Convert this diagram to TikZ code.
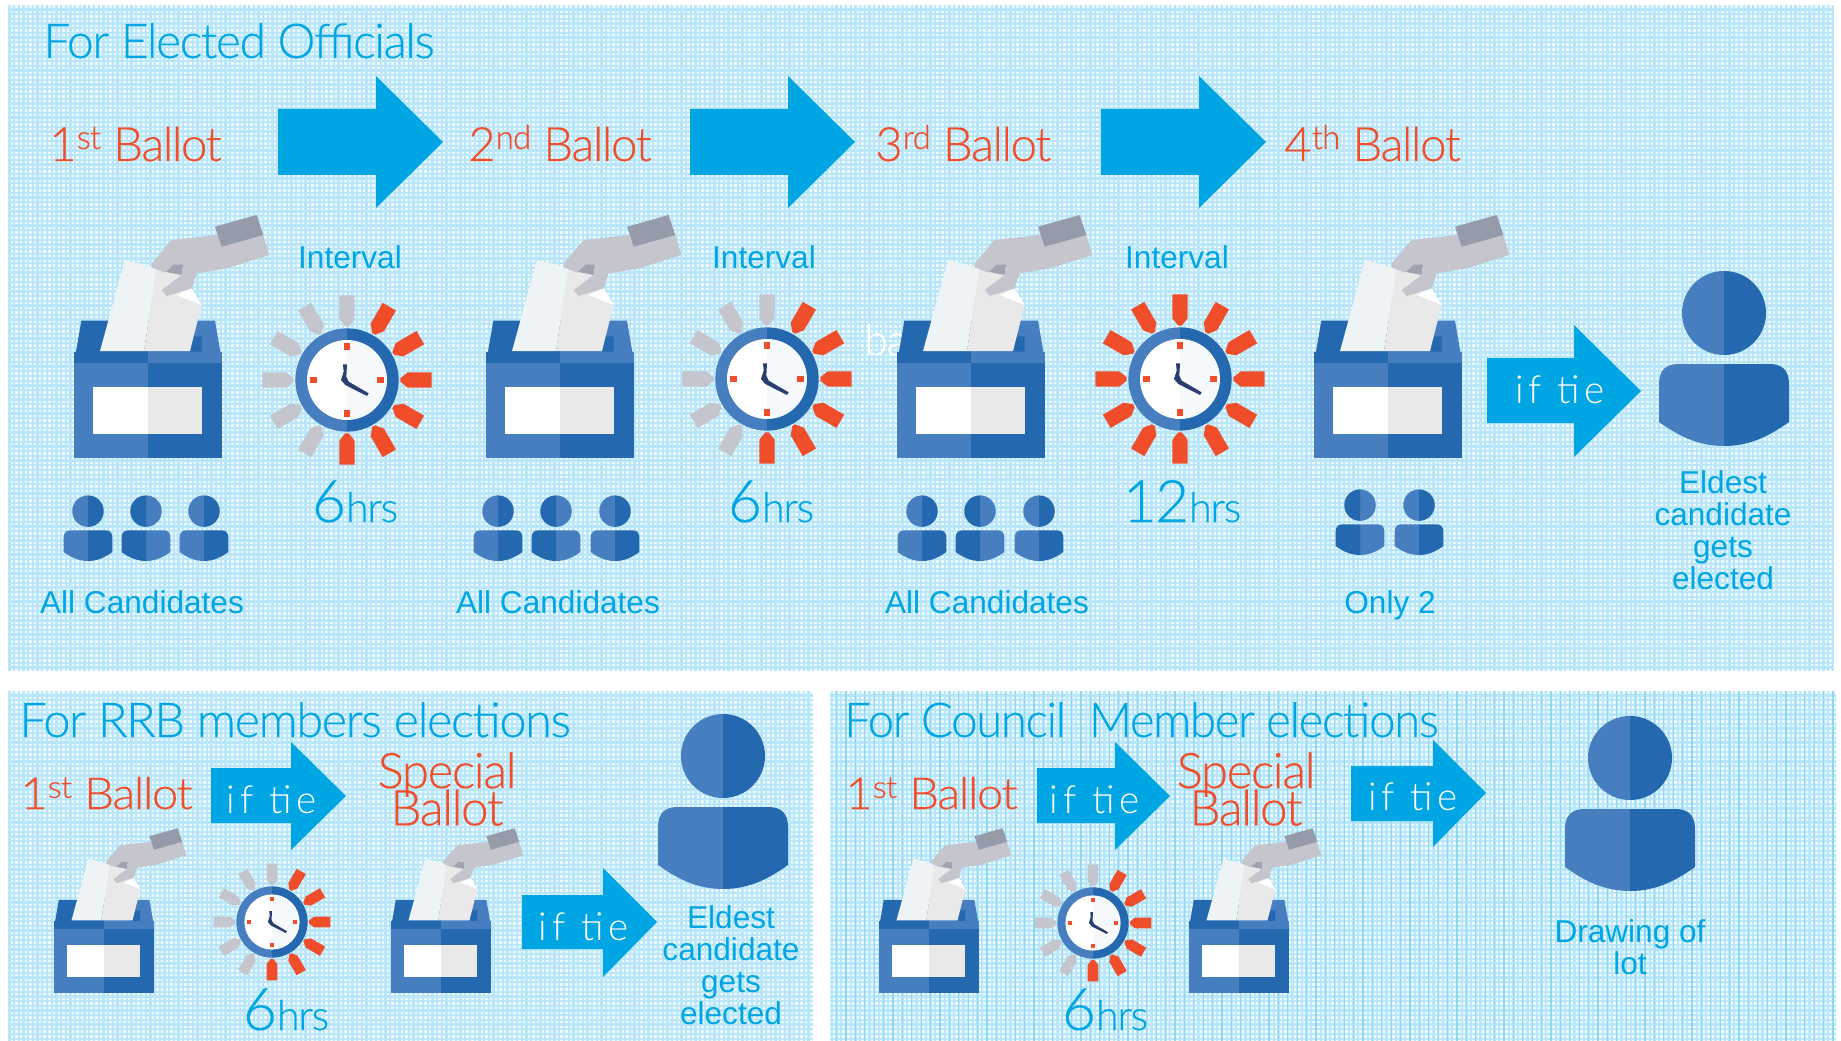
\documentclass[tikz,border=0pt]{standalone}
\usepackage{fontspec}
\setmainfont{Liberation Sans}
\newfontfamily\lightfont[LetterSpace=-3,FakeBold=0.25]{Lato Light}
\newfontfamily\tiefont[LetterSpace=13]{Lato Light}
\usepackage{graphicx}

\definecolor{boxlight}{HTML}{477EC0}
\definecolor{boxdark}{HTML}{2468AF}
\definecolor{skyblue}{HTML}{00A6E3}
\definecolor{ballotred}{HTML}{F04E2A}
\definecolor{handgrey}{HTML}{C5C5CE}
\definecolor{cuffgrey}{HTML}{959BA9}
\definecolor{paperlight}{HTML}{EEF3F5}
\definecolor{paperdark}{HTML}{E9E9EA}
\definecolor{handsnavy}{HTML}{2A3D6F}
\definecolor{panelbase}{HTML}{EEFAFE}
\definecolor{panelgrid}{HTML}{B9E7F9}
\definecolor{paneldark}{HTML}{8FD8F3}

\tikzset{
  panelfill/.style={fill=panelbase},
  panelline/.style={draw=panelgrid,line width=1.7pt},
  bigarrow/.style={fill=skyblue},
  icon/.style={scale=#1,yscale=-1},
  flipicon/.style={scale=#1,yscale=-1,xscale=-1},
  skytext/.style={inner sep=0pt,anchor=base,text=skyblue,font=\fontsize{23.7}{24}\selectfont},
  eldest/.style={inner sep=0pt,anchor=north,align=center,text=skyblue,font=\fontsize{23.7}{24}\selectfont},
  titletext/.style={inner sep=0pt,anchor=base west,text=skyblue,font=\lightfont\fontsize{36}{36}\selectfont},
  ballottext/.style={inner sep=0pt,anchor=base west,text=ballotred,font=\lightfont\fontsize{35.5}{36}\selectfont},
  specialtext/.style={inner sep=0pt,anchor=north,align=center,text=ballotred,font=\lightfont\fontsize{37}{30}\selectfont},
  hourtext/.style={inner sep=0pt,anchor=base,text=skyblue,font=\lightfont\fontsize{31}{31}\selectfont},
  tietext/.style={inner sep=0pt,anchor=base,text=white,font=\tiefont\fontsize{29}{29}\selectfont},
  pics/ballotbox/.style={code={
    %box top
    \fill[boxdark] (-222,-284) -- (-200,-412) -- (0,-412) -- (0,-284) -- cycle;
    \fill[boxlight] (0,-284) -- (0,-412) -- (201,-412) -- (223,-284) -- cycle;
    \fill[boxdark] (125,-319) -- (135,-365) -- (161,-365) -- (161,-319) -- cycle;
    %box body
    \fill[boxlight] (-222,-284) rectangle (0,0);
    \fill[boxdark] (0,-284) rectangle (223,0);
    \fill[boxdark] (-222,-319) rectangle (0,-284);
    \fill[boxlight] (0,-319) rectangle (223,-284);
    \fill[white] (-164,-214) rectangle (0,-72);
    \fill[paperdark] (0,-214) rectangle (161,-72);
    %paper
    \fill[paperlight] (-69,-594) -- (26,-570) -- (-12,-321) -- (-144,-321) -- cycle;
    \fill[paperdark] (26,-570) -- (96,-549) -- (161,-459) -- (126,-321) -- (-12,-321) -- cycle;
    \fill[white] (86,-489) -- (131,-509) -- (161,-459) -- cycle;
    %hand
    \fill[cuffgrey!80!handgrey] (51,-559) -- (76,-589) -- (106,-589) -- (101,-549) -- cycle;
    \fill[handgrey] (11,-584) -- (71,-654) -- (206,-669) -- (346,-669) -- (364,-609) -- (236,-569) -- (146,-554)
      -- (131,-509) -- (56,-486) -- (41,-504) -- (101,-549) -- (106,-580) -- (76,-580) -- (51,-556) -- (11,-572) -- cycle;
    \fill[cuffgrey] (201,-694) -- (326,-729) -- (346,-669) -- (221,-634) -- cycle;
  }},
  pics/clockicon/.style={code={
    \foreach \r in {1,...,12}{
      \ifnum\r>#1 \def\raycolor{handgrey}\else\def\raycolor{ballotred}\fi
      \begin{scope}[rotate=\r*30]
        \fill[\raycolor] (-23,-254) -- (23,-254) -- (23,-182) -- (5,-160) -- (-5,-160) -- (-23,-182) -- cycle;
      \end{scope}
    }
    %ring and face
    \fill[boxlight] (0,155) arc (90:270:155) -- cycle;
    \fill[boxdark] (0,155) arc (90:-90:155) -- cycle;
    \fill[white] (0,120) arc (90:270:120) -- cycle;
    \fill[white!95!boxlight] (0,120) arc (90:-90:120) -- cycle;
    \foreach \a in {0,90,180,270}{
      \begin{scope}[rotate=\a]
        \fill[ballotred] (-10,-110) rectangle (10,-90);
      \end{scope}
    }
    %hands
    \fill[handsnavy] (-12,-47) -- (0,-47) -- (-2,-10) -- (5,5) -- (65,40) -- (60,48) -- (-5,15) -- (-18,0) -- (-10,-25) -- cycle;
  }},
  pics/person/.style={code={
    \fill[boxlight] (0,-91) arc (90:270:42) -- cycle;
    \fill[boxdark] (0,-91) arc (90:-90:42) -- cycle;
    \fill[boxlight] (0,0) .. controls (-28,0) and (-48,-12) .. (-65,-24) -- (-65,-62) .. controls (-65,-76) and (-58,-82) .. (-45,-82) -- (0,-82) -- cycle;
    \fill[boxdark] (0,0) .. controls (28,0) and (48,-12) .. (65,-24) -- (65,-62) .. controls (65,-76) and (58,-82) .. (45,-82) -- (0,-82) -- cycle;
  }},
}

\begin{document}
\begin{tikzpicture}[x=0.75pt,y=0.75pt,yscale=-1,xscale=1]
\useasboundingbox (0,0) rectangle (1841,1041);

%Panels
\fill[panelfill] (8,5) rectangle (1833,671);
\draw[panelline,step=4.7] (8,5) grid (1833,671);
\fill[panelfill] (8,691) rectangle (813,1041);
\draw[panelline,step=4.7] (8,691) grid (813,1041);
\fill[panelfill] (830,691) rectangle (1836,1041);
\draw[panelline,step=4.7] (830,691) grid (1836,1041);
\draw[draw=paneldark,line width=0.8pt,xstep=9.4,ystep=2000] (830,691) grid (1836,1041);

%Text behind the third box
\node[inner sep=0pt,anchor=base west,text=white,font=\lightfont\fontsize{32}{32}\selectfont] (stray) at (864,355) {ba};

%Top panel
\node[titletext] (titleTop) at (43,58) {For Elected Officials};
\node[ballottext] (ballotA) at (49,161) {1\textsuperscript{st} Ballot};
\node[ballottext] (ballotB) at (468,161) {2\textsuperscript{nd} Ballot};
\node[ballottext] (ballotC) at (875,161) {3\textsuperscript{rd} Ballot};
\node[ballottext] (ballotD) at (1284,161) {4\textsuperscript{th} Ballot};

%Arrows
\fill[bigarrow] (278,109) -- (376,109) -- (376,76) -- (443,142) -- (376,208) -- (376,175) -- (278,175) -- cycle;
\fill[bigarrow] (690,109) -- (788,109) -- (788,76) -- (855,142) -- (788,208) -- (788,175) -- (690,175) -- cycle;
\fill[bigarrow] (1101,109) -- (1199,109) -- (1199,76) -- (1266,142) -- (1199,208) -- (1199,175) -- (1101,175) -- cycle;
\fill[bigarrow] (1487,358) -- (1574,358) -- (1574,325) -- (1641,391) -- (1574,457) -- (1574,423) -- (1487,423) -- cycle;

\node[skytext] (intervalA) at (350,268) {Interval};
\node[skytext] (intervalB) at (764,268) {Interval};
\node[skytext] (intervalC) at (1177,268) {Interval};

%Boxes and clocks
\pic[icon=0.3333] at (148,458) {ballotbox};
\pic[icon=0.3333] at (560,458) {ballotbox};
\pic[icon=0.3333] at (971,458) {ballotbox};
\pic[icon=0.3333] at (1388,458) {ballotbox};
\pic[icon=0.3333] at (347,380) {clockicon=6};
\pic[icon=0.3333] at (767,379) {clockicon=6};
\pic[icon=0.3333] at (1180,379) {clockicon=12};

\node[hourtext] (hoursA) at (355,522) {{\fontsize{44}{44}\selectfont 6}hrs};
\node[hourtext] (hoursB) at (771,522) {{\fontsize{44}{44}\selectfont 6}hrs};
\node[hourtext] (hoursC) at (1182,522) {{\fontsize{44}{44}\selectfont 12}hrs};

%People
\pic[icon=0.375] at (88,561) {person};
\pic[flipicon=0.375] at (146,561) {person};
\pic[icon=0.375] at (204,561) {person};
\pic[icon=0.375] at (498,561) {person};
\pic[flipicon=0.375] at (556,561) {person};
\pic[icon=0.375] at (615,561) {person};
\pic[icon=0.375] at (922,561) {person};
\pic[flipicon=0.375] at (980,561) {person};
\pic[icon=0.375] at (1039,561) {person};
\pic[flipicon=0.375] at (1360,555) {person};
\pic[icon=0.375] at (1419,555) {person};
\pic[icon=1] at (1724,446) {person};

\node[skytext] (allA) at (142,613) {All Candidates};
\node[skytext] (allB) at (558,613) {All Candidates};
\node[skytext] (allC) at (987,613) {All Candidates};
\node[skytext] (onlyTwo) at (1390,613) {Only 2};
\node[tietext] (tieTop) at (1560,403) {if tie};
\node[eldest] (eldestTop) at (1723,470) {Eldest\\candidate\\gets\\elected};

%Bottom left panel
\node[titletext] (titleRrb) at (19,737) {\scalebox{1.015}[1]{For RRB members elections}};
\node[ballottext] (ballotE) at (20,809) {\scalebox{1}[.93]{1\textsuperscript{st} Ballot}};
\node[specialtext] (specialA) at (447,752) {Special\\[-6.5pt]Ballot};
\fill[bigarrow] (211,768) -- (291,768) -- (291,742) -- (346,796) -- (291,850) -- (291,823) -- (211,823) -- cycle;
\fill[bigarrow] (522,895) -- (603,895) -- (603,868) -- (657,922) -- (603,977) -- (603,949) -- (522,949) -- cycle;
\node[tietext] (tieA) at (272,813) {if tie};
\node[tietext] (tieB) at (584,940) {if tie};
\pic[icon=0.226] at (104,993) {ballotbox};
\pic[icon=0.226] at (441,993) {ballotbox};
\pic[icon=0.23] at (272,922) {clockicon=6};
\node[hourtext] (hoursD) at (286,1030) {{\fontsize{44}{44}\selectfont 6}hrs};
\pic[icon=1] at (723,889) {person};
\node[eldest] (eldestRrb) at (731,905) {Eldest\\candidate\\gets\\elected};

%Bottom right panel
\node[titletext] (titleCouncil) at (844,737) {\scalebox{.988}[1]{For Council\ \ Member elections}};
\node[ballottext] (ballotF) at (845,809) {\scalebox{1}[.93]{1\textsuperscript{st} Ballot}};
\node[specialtext] (specialB) at (1246,752) {Special\\[-6.5pt]Ballot};
\fill[bigarrow] (1037,768) -- (1115,768) -- (1115,742) -- (1170,796) -- (1115,850) -- (1115,823) -- (1037,823) -- cycle;
\fill[bigarrow] (1351,766) -- (1433,766) -- (1433,740) -- (1486,793) -- (1433,847) -- (1433,821) -- (1351,821) -- cycle;
\node[tietext] (tieC) at (1095,813) {if tie};
\node[tietext] (tieD) at (1413,810) {if tie};
\pic[icon=0.226] at (929,993) {ballotbox};
\pic[icon=0.226] at (1239,993) {ballotbox};
\pic[icon=0.23] at (1093,923) {clockicon=6};
\node[hourtext] (hoursE) at (1105,1030) {{\fontsize{44}{44}\selectfont 6}hrs};
\pic[icon=1] at (1630,891) {person};
\node[eldest] (drawingLot) at (1630,919) {Drawing of\\lot};

\end{tikzpicture}
\end{document}
